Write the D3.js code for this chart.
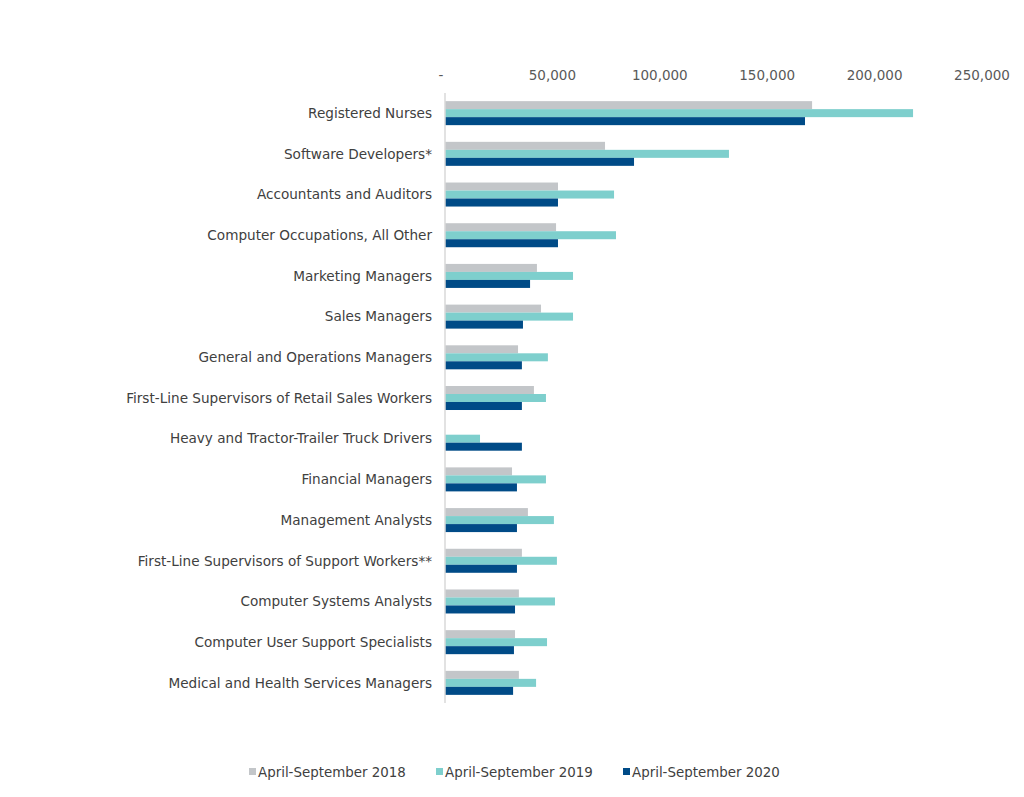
<!DOCTYPE html>
<html>
<head>
    <meta charset="utf-8">
    <title>Occupations</title>
    <style>
        body {
            margin: 0;
            background: #fff;
            font-family: 'DejaVu Sans', Verdana, sans-serif;
        }
    </style>
    <script src="https://cdnjs.cloudflare.com/ajax/libs/d3/7.8.5/d3.min.js"></script>
</head>
<body>
    <div id="chart"></div>
    <script>
        const occupations = [
            'Registered Nurses',
            'Software Developers*',
            'Accountants and Auditors',
            'Computer Occupations, All Other',
            'Marketing Managers',
            'Sales Managers',
            'General and Operations Managers',
            'First-Line Supervisors of Retail Sales Workers',
            'Heavy and Tractor-Trailer Truck Drivers',
            'Financial Managers',
            'Management Analysts',
            'First-Line Supervisors of Support Workers**',
            'Computer Systems Analysts',
            'Computer User Support Specialists',
            'Medical and Health Services Managers'
        ];
        const seriesNames = ['April-September 2018', 'April-September 2019', 'April-September 2020'];
        const values2018 = [170900, 74500, 52600, 51700, 42800, 44700, 34000, 41400, 0, 31200, 38600, 35800, 34400, 32600, 34400];
        const values2019 = [217900, 132200, 78700, 79600, 59600, 59600, 47900, 47000, 16300, 47000, 50700, 52100, 51200, 47500, 42400];
        const values2020 = [167600, 88000, 52600, 52600, 39600, 36300, 35800, 35800, 35800, 33500, 33500, 33500, 32600, 32100, 31700];
        const tickValues = [0, 50000, 100000, 150000, 200000, 250000];

        const colors = ['#c3c6c9', '#7ecfcd', '#004b87'];
        const seriesValues = [values2018, values2019, values2020];

        const width = 1024, height = 797;
        const svg = d3.select('#chart').append('svg')
            .attr('width', width)
            .attr('height', height);

        const x = d3.scaleLinear().domain([0, 250000]).range([445, 982]);
        const y = d3.scaleBand().domain(occupations).range([93, 703]).paddingInner(0.41).paddingOuter(0.2);
        const ySub = d3.scaleBand().domain([0, 1, 2]).range([0, y.bandwidth()]);

        // top axis labels
        svg.append('g')
            .selectAll('text')
            .data(tickValues)
            .join('text')
            .attr('x', d => x(d) + (d === 0 ? -4 : 0))
            .attr('y', 80)
            .attr('text-anchor', 'middle')
            .attr('fill', '#595959')
            .style('font-size', '13.5px')
            .text(d => d === 0 ? '-' : d3.format(',')(d));

        // category labels
        svg.append('g')
            .selectAll('text')
            .data(occupations)
            .join('text')
            .attr('x', 432)
            .attr('y', d => y(d) + y.bandwidth() / 2)
            .attr('dy', '0.35em')
            .attr('text-anchor', 'end')
            .attr('fill', '#404040')
            .style('font-size', '13.6px')
            .text(d => d);

        // bars
        seriesValues.forEach((vals, s) => {
            svg.append('g')
                .selectAll('rect')
                .data(vals)
                .join('rect')
                .attr('x', x(0))
                .attr('y', (d, i) => y(occupations[i]) + ySub(s))
                .attr('width', d => x(d) - x(0))
                .attr('height', ySub.bandwidth())
                .attr('fill', colors[s]);
        });

        // vertical axis line
        svg.append('line')
            .attr('x1', x(0)).attr('x2', x(0))
            .attr('y1', 93).attr('y2', 703)
            .attr('stroke', '#d9d9d9')
            .attr('stroke-width', 1.5);

        // legend
        const legendX = [249, 436, 623];
        const legend = svg.append('g')
            .selectAll('g')
            .data(seriesNames)
            .join('g')
            .attr('transform', (d, i) => `translate(${legendX[i]}, 772)`);

        legend.append('rect')
            .attr('x', 0)
            .attr('y', -4)
            .attr('width', 7)
            .attr('height', 7)
            .attr('fill', (d, i) => colors[i]);

        legend.append('text')
            .attr('x', 9)
            .attr('y', 0)
            .attr('dy', '0.35em')
            .attr('fill', '#404040')
            .style('font-size', '13.4px')
            .text(d => d);
    </script>
</body>
</html>
